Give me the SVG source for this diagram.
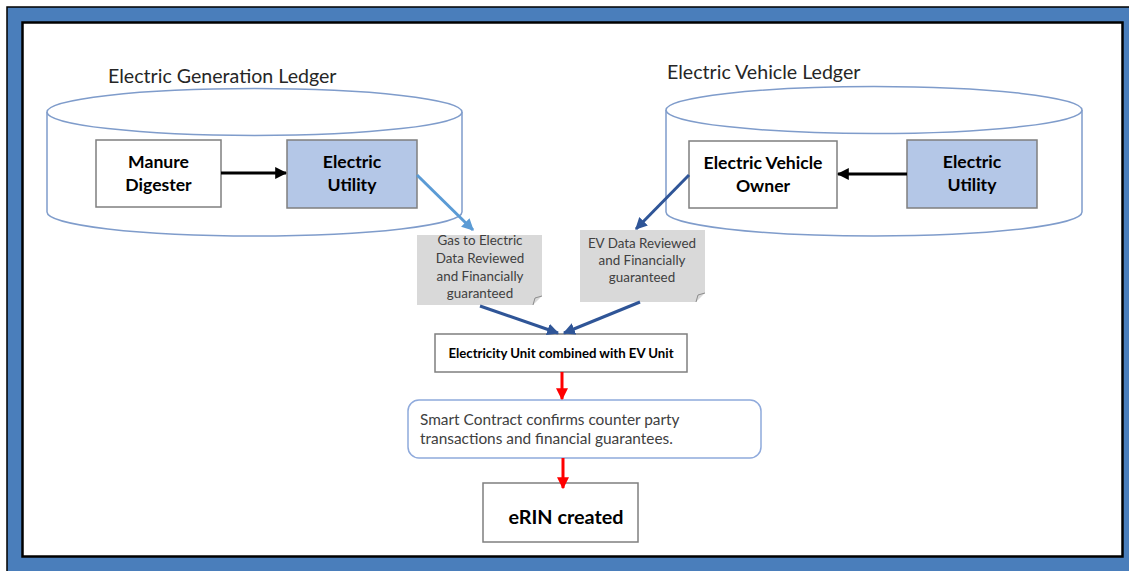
<svg xmlns="http://www.w3.org/2000/svg" width="1129" height="571" viewBox="0 0 1129 571">
<defs>
<style>
.t{font-family:Lato,"Liberation Sans",sans-serif;}
.title{font-size:19.6px;fill:#262626;}
.node{fill:#fff;stroke:#7f7f7f;stroke-width:1.5;}
.util{fill:#B4C7E7;stroke:#7f7f7f;stroke-width:1.5;}
.bold{font-weight:bold;fill:#000;}
.nb{font-size:17.6px;}
.note{fill:#D9D9D9;}
.nt{font-size:13.4px;fill:#404040;}
.cyl{fill:#fff;stroke:#7F9CCB;stroke-width:1.5;}
</style>
<marker id="ab" viewBox="0 0 10 10" refX="9" refY="5" markerWidth="4" markerHeight="4" orient="auto-start-reverse"><path d="M0,0 L10,5 L0,10 z" fill="#000"/></marker>
<marker id="alb" viewBox="0 0 10 10" refX="9" refY="5" markerWidth="4" markerHeight="4" orient="auto"><path d="M0,0 L10,5 L0,10 z" fill="#5B9BD5"/></marker>
<marker id="adb" viewBox="0 0 10 10" refX="9" refY="5" markerWidth="4" markerHeight="4" orient="auto"><path d="M0,0 L10,5 L0,10 z" fill="#2F5597"/></marker>
<marker id="ar" viewBox="0 0 10 10" refX="9" refY="5" markerWidth="4" markerHeight="4" orient="auto"><path d="M0,0 L10,5 L0,10 z" fill="#FF0000"/></marker>
</defs>
<g id="frame">
<rect x="7" y="7" width="1125" height="566" fill="#4A7EBB" stroke="#000" stroke-width="1.5"/>
<rect x="22.5" y="22.5" width="1100" height="534" fill="#fff" stroke="#000" stroke-width="2.5"/>
</g>
<g id="gen-ledger">
<path class="cyl" d="M47,112 L47,212 A207.5,24 0 0 0 462,212 L462,112"/>
<ellipse class="cyl" cx="254.5" cy="112" rx="207.5" ry="23.5"/>
<text class="t title" x="108" y="83">Electric Generation Ledger</text>
</g>
<g id="ev-ledger">
<path class="cyl" d="M666,110 L666,212 A208,24 0 0 0 1082,212 L1082,110"/>
<ellipse class="cyl" cx="874" cy="110" rx="208" ry="23.5"/>
<text class="t title" x="667" y="79">Electric Vehicle Ledger</text>
</g>
<g id="manure">
<rect class="node" x="96" y="140" width="125" height="67"/>
<text class="t bold nb" text-anchor="middle" x="158.5" y="168">Manure</text>
<text class="t bold nb" text-anchor="middle" x="158.5" y="191">Digester</text>
</g>
<g id="utility-left">
<rect class="util" x="287" y="140" width="130" height="68"/>
<text class="t bold nb" text-anchor="middle" x="352" y="168">Electric</text>
<text class="t bold nb" text-anchor="middle" x="352" y="191">Utility</text>
</g>
<g id="ev-owner">
<rect class="node" x="689" y="141" width="148" height="67"/>
<text class="t bold nb" text-anchor="middle" x="763" y="169">Electric Vehicle</text>
<text class="t bold nb" text-anchor="middle" x="763" y="192">Owner</text>
</g>
<g id="utility-right">
<rect class="util" x="907" y="140" width="130" height="68"/>
<text class="t bold nb" text-anchor="middle" x="972" y="168">Electric</text>
<text class="t bold nb" text-anchor="middle" x="972" y="191">Utility</text>
</g>
<g id="note-gas">
<path class="note" d="M417,235 L542,235 L542,296 L533,305 L417,305 z"/>
<path d="M533,305 L535,298 L542,296" fill="none" stroke="#8c8c8c" stroke-width="1"/>
<text class="t nt" text-anchor="middle" x="480" y="245">Gas to Electric</text>
<text class="t nt" text-anchor="middle" x="480" y="263">Data Reviewed</text>
<text class="t nt" text-anchor="middle" x="480" y="281">and Financially</text>
<text class="t nt" text-anchor="middle" x="480" y="298">guaranteed</text>
</g>
<g id="note-ev">
<path class="note" d="M580,230 L705,230 L705,293 L696,302 L580,302 z"/>
<path d="M696,302 L698,295 L705,293" fill="none" stroke="#8c8c8c" stroke-width="1"/>
<text class="t nt" text-anchor="middle" x="642" y="248">EV Data Reviewed</text>
<text class="t nt" text-anchor="middle" x="642" y="265">and Financially</text>
<text class="t nt" text-anchor="middle" x="642" y="282">guaranteed</text>
</g>
<g id="combined">
<rect class="node" x="435" y="334" width="252" height="38" stroke="#404040"/>
<text class="t bold" font-size="13.2" text-anchor="middle" x="561" y="358">Electricity Unit combined with EV Unit</text>
</g>
<g id="smart-contract">
<rect x="408" y="400" width="353" height="58" rx="11" fill="#fff" stroke="#8FAADC" stroke-width="1.5"/>
<text class="t" font-size="15.4" fill="#404040" x="420" y="425">Smart Contract confirms counter party</text>
<text class="t" font-size="15.4" fill="#404040" x="420" y="444">transactions and financial guarantees.</text>
</g>
<g id="erin">
<rect class="node" x="483" y="483" width="155" height="59" stroke="#595959"/>
<text class="t bold" font-size="19.8" text-anchor="middle" x="566" y="524">eRIN created</text>
</g>
<g id="connectors" fill="none">
<line x1="221" y1="173" x2="286" y2="173" stroke="#000" stroke-width="3" marker-end="url(#ab)"/>
<line x1="907" y1="174" x2="838" y2="174" stroke="#000" stroke-width="3" marker-end="url(#ab)"/>
<line x1="417" y1="175" x2="473" y2="230" stroke="#5B9BD5" stroke-width="3" marker-end="url(#alb)"/>
<line x1="689" y1="175" x2="636" y2="229" stroke="#2F5597" stroke-width="3" marker-end="url(#adb)"/>
<line x1="480" y1="306" x2="558" y2="333" stroke="#2F5597" stroke-width="3" marker-end="url(#adb)"/>
<line x1="640" y1="302" x2="564" y2="333" stroke="#2F5597" stroke-width="3" marker-end="url(#adb)"/>
<line x1="562" y1="372" x2="562" y2="399" stroke="#FF0000" stroke-width="3" marker-end="url(#ar)"/>
<line x1="563" y1="458" x2="563" y2="488" stroke="#FF0000" stroke-width="3" marker-end="url(#ar)"/>
</g>
</svg>
